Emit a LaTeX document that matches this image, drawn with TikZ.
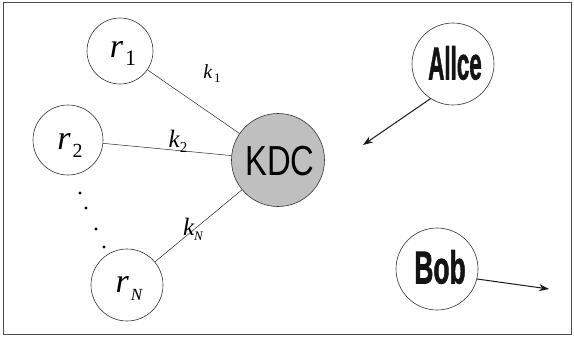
\documentclass[tikz,border=0pt]{standalone}
\usepackage{fontspec}
\setmainfont{Liberation Serif}
\newfontfamily\arialf{Liberation Sans}
\newfontfamily\heavyf[FakeBold=1.8]{Liberation Sans Bold}
\usetikzlibrary{arrows.meta}
\tikzset{
  circ/.style={draw=black!80, line width=0.6pt, circle, fill=white, inner sep=0pt},
  link/.style={draw=black!85, line width=0.5pt},
  arr/.style={draw=black!90, line width=1pt, -{Stealth[length=10pt,width=7pt]}},
  txt/.style={inner sep=0pt},
  heavy/.style={inner sep=0pt, font=\heavyf, text=black!92},
}
\begin{document}
\begin{tikzpicture}[x=1pt,y=-1pt]
\useasboundingbox (0,0) rectangle (574,338);
\draw[black!70, line width=0.8pt] (3.5,2.5) rectangle (571,334);
\node[circ, minimum size=66pt] (r1) at (120,51) {};
\node[circ, minimum size=70pt] (r2) at (68,140) {};
\node[circ, minimum size=72pt] (rN) at (127,285) {};
\node[circ, fill=black!25, minimum size=93pt] (kdc) at (278,160) {};
\node[circ, minimum size=82pt] (alice) at (453,64) {};
\node[circ, minimum size=82pt] (bob) at (437,269) {};
\node[txt] (r1t) at (123,53) {\fontsize{34}{34}\selectfont\itshape r\hspace{2pt}\raisebox{-8pt}{\fontsize{22}{22}\selectfont\upshape 1}};
\node[txt] (r2t) at (70,145) {\fontsize{34}{34}\selectfont\itshape r\hspace{2pt}\raisebox{-8pt}{\fontsize{20}{20}\selectfont\upshape 2}};
\node[txt] (rNt) at (129,288) {\fontsize{34}{34}\selectfont\itshape r\hspace{2pt}\raisebox{-8pt}{\fontsize{17}{17}\selectfont N}};
\node[txt] (kdct) at (280,161) {\arialf\scalebox{0.78}[1]{\fontsize{42}{42}\selectfont KDC}};
\node[heavy] (alicet) at (455,63) {\scalebox{0.56}[1.15]{\fontsize{40}{40}\selectfont Allce}};
\node[heavy] (bobt) at (440,267) {\scalebox{0.66}[1.15]{\fontsize{40}{40}\selectfont Bob}};
\draw[link] (r1) -- (kdc);
\draw[link] (r2) -- (kdc);
\draw[link] (rN) -- (kdc);
\node[txt] (k1) at (212,74) {\fontsize{20}{20}\selectfont\itshape k\hspace{2pt}\raisebox{-4pt}{\fontsize{13}{13}\selectfont\upshape 1}};
\node[txt] (k2) at (178,141) {\fontsize{25}{25}\selectfont\itshape k\raisebox{-5pt}{\fontsize{15}{15}\selectfont\upshape 2}};
\node[txt] (kN) at (193,229) {\fontsize{25}{25}\selectfont\itshape k\raisebox{-5pt}{\fontsize{13}{13}\selectfont N}};
\fill (80,193) circle (1.6pt) (86,208) circle (1.6pt) (96,229) circle (1.6pt) (104,247) circle (1.6pt);
\coordinate (aend) at (363,145);
\coordinate (bend) at (549,289);
\draw[arr] (alice.-123) -- (aend);
\draw[arr] (bob.-14) -- (bend);
\end{tikzpicture}
\end{document}
